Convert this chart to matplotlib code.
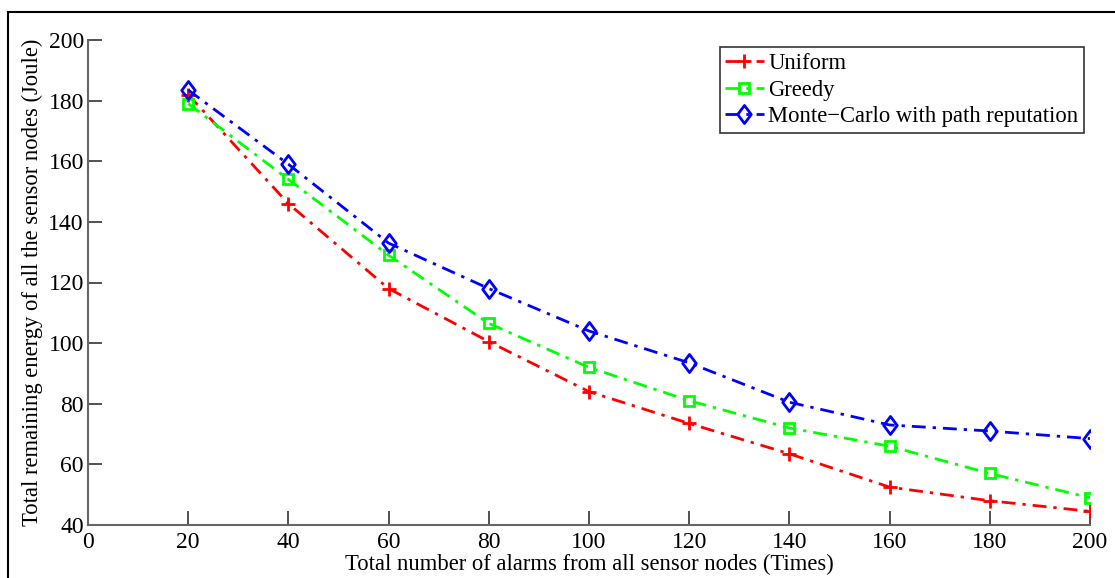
import numpy as np
import matplotlib
matplotlib.use("Agg")
import matplotlib.pyplot as plt
from matplotlib.patches import Rectangle
from matplotlib.path import Path

plt.rcParams['font.family'] = ['Liberation Serif', 'DejaVu Serif']

# data
alarms = [20, 40, 60, 80, 100, 120, 140, 160, 180, 200]
uniform = [182, 146, 118, 100.5, 84, 73.5, 63.5, 52.5, 48, 44.5]
greedy = [179, 154, 129, 106.5, 92, 81, 72, 66, 57, 49]
monte_carlo = [183.5, 159, 133, 118, 104, 93.5, 80.5, 73, 71, 68.5]
labels = ['Uniform', 'Greedy', 'Monte\u2212Carlo with path reputation']

# matlab-ish diamond, a bit taller than wide
diamond = Path([(0, 1), (0.75, 0), (0, -1), (-0.75, 0), (0, 1)],
               [Path.MOVETO, Path.LINETO, Path.LINETO, Path.LINETO, Path.CLOSEPOLY])

fig = plt.figure(figsize=(11.15, 5.78), dpi=100)
ax = fig.add_axes([88/1115, 1-525/578, (1090-88)/1115, (525-40)/578])

# figure frame (clipped at right and bottom like the original)
fig.patches.append(Rectangle((8/1115, -0.2), 1.2, 1.2 - 12/578,
                             transform=fig.transFigure, fill=False,
                             edgecolor='black', linewidth=1.5, clip_on=False))

dash = (0, (5, 2.5, 1.2, 2.5))
ax.plot(alarms, uniform, color='#ff0000', linestyle=dash, linewidth=2,
        marker='+', markersize=10, markeredgewidth=2, label=labels[0])
ax.plot(alarms, greedy, color='#00ff00', linestyle=dash, linewidth=2,
        marker='s', markersize=7, markeredgewidth=2, markerfacecolor='none',
        label=labels[1])
ax.plot(alarms, monte_carlo, color='#0000ff', linestyle=dash, linewidth=2,
        marker=diamond, markersize=13, markeredgewidth=2, markerfacecolor='none',
        label=labels[2])

ax.set_xlim(0, 200)
ax.set_ylim(40, 200)
ax.set_xticks(np.arange(0, 201, 20))
ax.set_yticks(np.arange(40, 201, 20))
ax.tick_params(direction='in', length=10, width=1.2, labelsize=17,
               color='#333333')
ax.tick_params(axis='x', pad=5)
ax.tick_params(axis='y', pad=3)
for s in ['top', 'right']:
    ax.spines[s].set_visible(False)
for s in ['left', 'bottom']:
    ax.spines[s].set_color('#666666')
    ax.spines[s].set_linewidth(1.5)

ax.set_xlabel('Total number of alarms from all sensor nodes (Times)',
              fontsize=16.3, labelpad=1)
ax.set_ylabel('Total remaining energy of all the sensor nodes (Joule)',
              fontsize=16.3, labelpad=4)

leg = ax.legend(loc='upper right', bbox_to_anchor=(0.994, 0.985), fontsize=16.3,
                frameon=True, fancybox=False, edgecolor='black',
                handlelength=1.7, borderpad=0.25, labelspacing=0.25,
                handletextpad=0.2, borderaxespad=0)
leg.get_frame().set_linewidth(1.2)

fig.savefig('out.png', dpi=100)
